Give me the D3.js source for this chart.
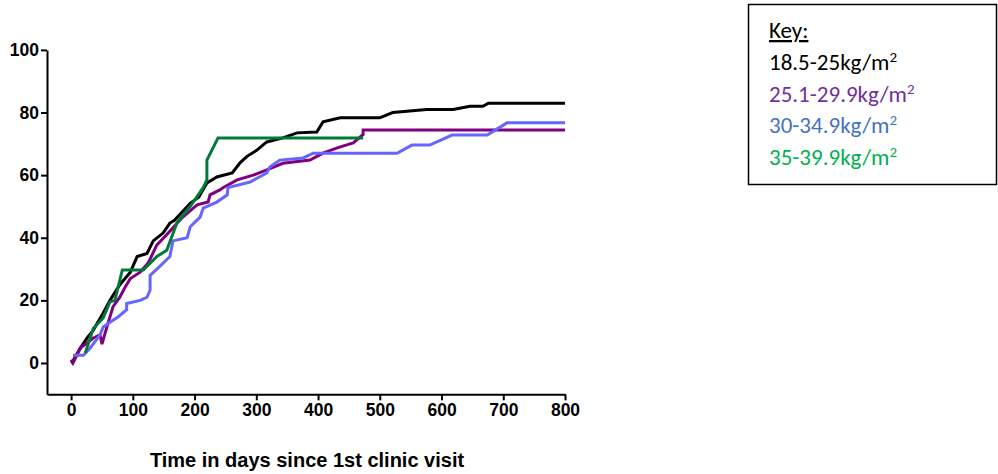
<!DOCTYPE html>
<html><head><meta charset="utf-8">
<script src="https://cdn.jsdelivr.net/npm/d3@7"></script>
<style>body{margin:0;background:#fff}svg{display:block}</style>
</head><body><svg id="c" width="998" height="474"></svg>
<script>
const xTicks = [0,100,200,300,400,500,600,700,800];
const yTicks = [0,20,40,60,80,100];
const seriesNames = ["18.5-25kg/m","25.1-29.9kg/m","30-34.9kg/m","35-39.9kg/m"];
const lineColors = ["#000000","#800080","#6666ff","#007a3a"];
const textColors = ["#000000","#7030a0","#4472c4","#00b050"];

const blackDays = [0,2,15,26,36,52,63,79,96,107,123,133,149,160,167,193,207,220,236,261,274,285,301,317,343,366,398,408,436,500,521,576,619,646,667,676,800];
const blackVals = [0,0.3,4.8,8,10.5,16,20,25,29,34,35,39,41.5,44.7,45.5,51,53,57.5,59.4,60.7,64,66,68,70.6,71.9,73.5,73.8,77,78.3,78.3,80,81,81,82,82,83,83];

const purpleDays = [0,3,15,36,47,50,58,68,79,87,96,112,125,139,155,172,181,204,222,225,241,246,269,295,317,343,387,408,431,457,473,473,800];
const purpleVals = [1,0,4.8,8,9,6,11.5,18,21,24,27,29,32,37.7,41,44.7,46.6,50.5,51.4,53.7,55.3,56,58.5,60,61.7,63.8,64.8,67,68.7,70.3,73,74.4,74.4];

const blueDays = [3,20,31,47,52,63,76,90,90,112,123,128,128,139,160,165,188,193,209,214,236,253,254,290,317,322,338,376,392,528,552,581,617,674,706,800];
const blueVals = [2.5,2.5,4.8,9,11.5,13,14.7,17,19,20,21,23.3,28,30,34,39,40,43.5,46.6,49.5,51.4,53.7,56,57.8,60.7,62.6,64.8,65.5,67,67,69.6,69.6,72.8,72.8,76.7,76.7];

const greenDays = [23,36,52,63,71,83,117,139,155,172,193,214,220,220,238,473];
const greenVals = [3.2,11,14.4,19.5,20,29.7,29.7,34,36,45,50,56,58.5,64.8,71.9,71.9];

const seriesDays = [blackDays,purpleDays,blueDays,greenDays];
const seriesVals = [blackVals,purpleVals,blueVals,greenVals];

const svg = d3.select("#c");
const x = d3.scaleLinear().domain([-39,800]).range([47,565]);
const y = d3.scaleLinear().domain([-10,100]).range([394.3,49.9]);

const font = "'Liberation Sans', Arial, sans-serif";

const xa = svg.append("g").attr("transform",`translate(0,${y(-10)})`)
  .call(d3.axisBottom(x).tickValues(xTicks).tickSize(6).tickSizeOuter(0).tickPadding(3));
const ya = svg.append("g").attr("transform",`translate(${x(-39)},0)`)
  .call(d3.axisLeft(y).tickValues(yTicks).tickSize(6).tickSizeOuter(0).tickPadding(2));
[xa,ya].forEach(a=>{
  a.select(".domain").attr("stroke","#000").attr("stroke-width",2);
  a.selectAll(".tick line").attr("stroke","#000").attr("stroke-width",2);
  a.selectAll(".tick text").attr("font-family",font).attr("font-weight","bold").attr("font-size",17.5).attr("fill","#000");
});

const line = d3.line().x(d=>x(d[0])).y(d=>y(d[1]));
seriesDays.forEach((days,i)=>{
  const pts = days.map((d,j)=>[d,seriesVals[i][j]]);
  svg.append("path").datum(pts).attr("d",line)
    .attr("fill","none").attr("stroke",lineColors[i]).attr("stroke-width",3)
    .attr("stroke-linejoin","miter").attr("stroke-linecap","butt");
});

svg.append("text").attr("x",307).attr("y",467).attr("text-anchor","middle")
  .attr("font-family",font).attr("font-weight","bold").attr("font-size",20)
  .text("Time in days since 1st clinic visit");

svg.append("rect").attr("x",748.5).attr("y",4.5).attr("width",248).attr("height",180)
  .attr("fill","#fff").attr("stroke","#000").attr("stroke-width",1.5);
const lf = "Carlito, Lato, 'Open Sans', sans-serif";
svg.append("text").attr("x",769).attr("y",38).attr("font-family",lf).attr("font-size",23)
  .attr("text-decoration","underline").attr("fill","#000").text("Key:");
seriesNames.forEach((n,i)=>{
  const t = svg.append("text").attr("x",769).attr("y",70+i*31.7).attr("font-family",lf)
    .attr("font-size",23).attr("fill",textColors[i]);
  t.append("tspan").text(n);
  t.append("tspan").attr("dy",-8).attr("font-size",15).text("2");
});
</script></body></html>
